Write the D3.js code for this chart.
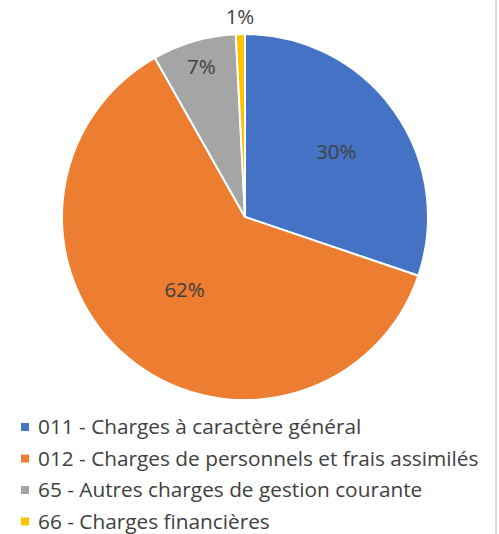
<!DOCTYPE html>
<html>
<head>
<meta charset="utf-8">
<script src="https://cdn.jsdelivr.net/npm/d3@7"></script>
<style>
  body { margin: 0; background: #fff; }
  svg text { font-family: "Open Sans", Lato, sans-serif; fill: #404040; }
</style>
</head>
<body>
<div id="chart"></div>
<script>
var categories = [
  "011 - Charges à caractère général",
  "012 - Charges de personnels et frais assimilés",
  "65 - Autres charges de gestion courante",
  "66 - Charges financières"
];
var values = [30.2, 61.6, 7.4, 0.8];
var colors = ["#4472C4", "#ED7D31", "#A5A5A5", "#FFC000"];

var width = 499, height = 534;
var cx = 245, cy = 217, radius = 183;
// how far out each label sits, as a share of the radius
var labelFactor = [0.614, 0.518, 0.854, 1.092];

var svg = d3.select("#chart").append("svg")
  .attr("width", width)
  .attr("height", height);

// thin frame line on the right
svg.append("line")
  .attr("x1", 496).attr("x2", 496)
  .attr("y1", 0).attr("y2", height)
  .attr("stroke", "#d9d9d9")
  .attr("stroke-width", 2);

var total = d3.sum(values);
var pie = d3.pie().sort(null).value(function(d){ return d; });
var arcs = pie(values);

var arc = d3.arc().innerRadius(0).outerRadius(radius);

var g = svg.append("g").attr("transform", "translate(" + cx + "," + cy + ")");

g.selectAll("path")
  .data(arcs)
  .enter()
  .append("path")
  .attr("d", arc)
  .attr("fill", function(d, i){ return colors[i]; })
  .attr("stroke", "#fff")
  .attr("stroke-width", 2);

g.selectAll("text.lbl")
  .data(arcs)
  .enter()
  .append("text")
  .attr("class", "lbl")
  .attr("transform", function(d, i){
    var r = radius * labelFactor[i];
    var c = d3.arc().innerRadius(r).outerRadius(r).centroid(d);
    return "translate(" + c[0] + "," + c[1] + ")";
  })
  .attr("text-anchor", "middle")
  .attr("dy", "0.35em")
  .style("font-size", "20.5px")
  .text(function(d){ return Math.round(d.value / total * 100) + "%"; });

var legend = svg.append("g").attr("transform", "translate(21,427)");
var rows = legend.selectAll("g")
  .data(categories)
  .enter()
  .append("g")
  .attr("transform", function(d, i){ return "translate(0," + (i * 31.5) + ")"; });

rows.append("rect")
  .attr("x", 0).attr("y", -4)
  .attr("width", 8).attr("height", 8)
  .attr("fill", function(d, i){ return colors[i]; });

rows.append("text")
  .attr("x", 17)
  .attr("dy", "0.35em")
  .style("font-size", "20.8px")
  .text(function(d){ return d; });
</script>
</body>
</html>
